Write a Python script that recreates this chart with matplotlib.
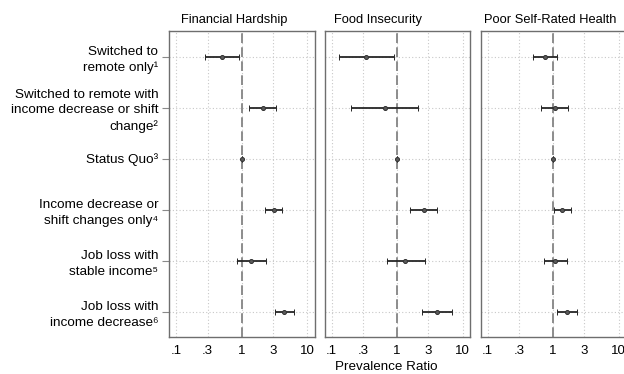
import matplotlib
matplotlib.use("Agg")
import matplotlib.pyplot as plt
from matplotlib.ticker import NullLocator
import numpy as np

plt.rcParams['font.family'] = ['Liberation Sans', 'DejaVu Sans']

categories = [
    "Switched to\nremote only\u00b9",
    "Switched to remote with\nincome decrease or shift\nchange\u00b2",
    "Status Quo\u00b3",
    "Income decrease or\nshift changes only\u2074",
    "Job loss with\nstable income\u2075",
    "Job loss with\nincome decrease\u2076",
]

panels = ["Financial Hardship", "Food Insecurity", "Poor Self-Rated Health"]

# prevalence ratios and 95% confidence limits, one list per outcome
fin_pr = [0.49, 2.10, 1.00, 3.07, 1.37, 4.43]
fin_lo = [0.27, 1.28, 1.00, 2.29, 0.85, 3.22]
fin_hi = [0.89, 3.37, 1.00, 4.12, 2.31, 6.16]

food_pr = [0.34, 0.65, 1.00, 2.58, 1.34, 4.11]
food_lo = [0.13, 0.20, 1.00, 1.60, 0.70, 2.43]
food_hi = [0.89, 2.06, 1.00, 4.11, 2.64, 6.96]

health_pr = [0.76, 1.06, 1.00, 1.37, 1.07, 1.61]
health_lo = [0.49, 0.66, 1.00, 1.02, 0.72, 1.15]
health_hi = [1.16, 1.69, 1.00, 1.88, 1.61, 2.29]

series = [(fin_pr, fin_lo, fin_hi), (food_pr, food_lo, food_hi),
          (health_pr, health_lo, health_hi)]

xticks = [0.1, 0.3, 1, 3, 10]
xticklabels = [".1", ".3", "1", "3", "10"]

W, H = 624, 374
fig = plt.figure(figsize=(W / 100, H / 100), dpi=100)

lefts_px = [169.3, 324.5, 480.5]
width_px = 145.3
top_px, bottom_px = 31.0, 337.0
title_x_px = [234.5, 378.0, 550.3]

y = np.arange(1, len(categories) + 1)
frame_col = "#6e6e6e"
grid_col = "#c8c8c8"

for i, (title, (pr, lo, hi)) in enumerate(zip(panels, series)):
    ax = fig.add_axes([lefts_px[i] / W, 1 - bottom_px / H,
                       width_px / W, (bottom_px - top_px) / H])
    ax.set_xscale("log")
    ax.set_xlim(10 ** -1.108, 10 ** 1.11)
    ax.set_ylim(6.5, 0.5)

    for yy in y:
        ax.axhline(yy, color=grid_col, lw=0.8, ls=(0, (1, 2)), zorder=0)
    for xt in xticks:
        ax.axvline(xt, color=grid_col, lw=0.8, ls=(0, (1, 2)), zorder=0)
    ax.axvline(1, color="#8c8c8c", lw=1.4, ls=(0, (5, 2.2)), zorder=1)

    pr = np.array(pr)
    err = np.vstack([pr - np.array(lo), np.array(hi) - pr])
    ax.errorbar(pr, y, xerr=err, fmt="o", ms=2.9, mfc="#5a5a5a", mec="#333333",
                mew=0.7, ecolor="#262626", elinewidth=1.3, capsize=2.2,
                capthick=1.3, zorder=3)

    ax.set_xticks(xticks)
    ax.set_xticklabels(xticklabels, fontsize=9.5)
    ax.xaxis.set_minor_locator(NullLocator())
    ax.tick_params(axis="x", length=0, pad=6, colors="#000000")

    ax.set_yticks(y)
    if i == 0:
        ax.set_yticklabels(categories, fontsize=9.7, linespacing=1.4,
                           multialignment="right")
        ax.tick_params(axis="y", length=5, width=0.8, color="#8a8a8a", pad=3)
    else:
        ax.set_yticklabels([])
        ax.tick_params(axis="y", length=0)

    for sp in ax.spines.values():
        sp.set_color(frame_col)
        sp.set_linewidth(1.0)

    fig.text(title_x_px[i] / W, 1 - 22.7 / H, title, fontsize=9.3,
             ha="center", va="baseline")

fig.text(386 / W, 1 - 370.3 / H, "Prevalence Ratio", fontsize=9.6,
         ha="center", va="baseline")

fig.savefig("out.png", dpi=100)
